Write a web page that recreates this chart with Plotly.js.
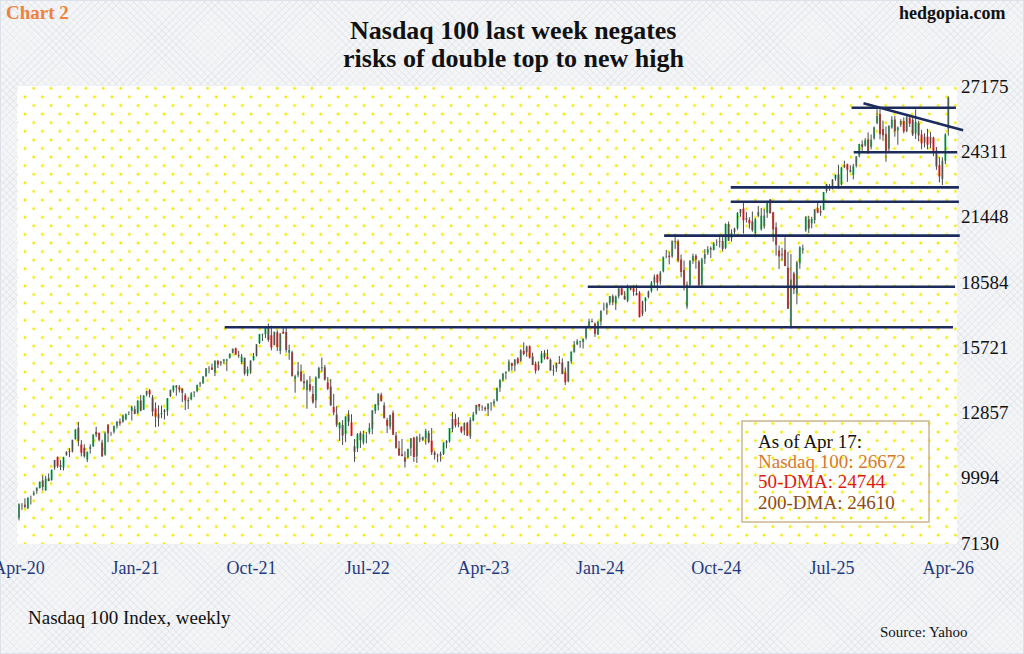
<!DOCTYPE html>
<html><head><meta charset="utf-8">
<script src="https://cdn.plot.ly/plotly-3.0.1.min.js"></script>
<style>
html,body{margin:0;padding:0;width:1024px;height:654px;overflow:hidden;}
body{background-color:#f4f5f7;background-image:repeating-linear-gradient(45deg,rgba(205,210,220,0.28) 0 1px,transparent 1px 5px),repeating-linear-gradient(-45deg,rgba(205,210,220,0.28) 0 1px,transparent 1px 5px);}
#frame{position:absolute;left:0;top:0;width:1022px;height:652px;border:1px solid #dde2ea;}
#dots{position:absolute;left:17px;top:86px;width:940px;height:458px;background-color:#ffffff;
background-image:radial-gradient(circle,#f4ea00 0,#f4ea00 1.2px,rgba(255,255,255,0) 1.7px),radial-gradient(circle,#f4ea00 0,#f4ea00 1.2px,rgba(255,255,255,0) 1.7px);
background-size:17.4px 17.2px,17.4px 17.2px;background-position:-0.7px 2.3px,8px -6.3px;}
#chart{position:absolute;left:0;top:0;width:1024px;height:654px;}
</style></head>
<body>
<div id="frame"></div>
<div id="dots"></div>
<div id="chart"></div>
<script>
// Weekly Nasdaq 100 candles, week ending 2020-04-17 ... 2026-04-17
var firstWeek = '2020-04-17';
var openVals = [
8240,8790,8810,8650,9150,9250,9420,9540,9870,9440,9970,9880,10430,10900,10540,10440,10980,11170,11140,11690,12180,11450,11310,10790,11250,11370,12010,11970,11540,11010,12330,11960,12010,12270,12460,12440,12560,12860,
12920,13000,12830,13380,12980,13640,13830,13510,13030,12590,12780,12880,12930,13580,13820,14030,13960,13910,13610,13350,13430,13730,13800,14090,14140,14450,14810,14830,14610,15120,15010,15110,15140,15260,15470,15670,15370,15070,15250,14560,14690,15150,15340,15900,16280,16290,16610,16240,15810,16370,15550,16400,
16380,15470,15500,14320,14500,14650,14230,13830,14090,13660,13390,14380,14800,14840,14170,13980,13100,12750,12150,12310,11910,12770,12430,11370,11270,11960,11540,11800,11990,12140,12930,13170,13630,13170,12520,12240,12840,11850,11280,11020,10880,10900,11290,11750,10930,11710,11650,11720,11960,11610,11100,10960,
10960,11050,11500,11590,12130,12570,12390,12230,12050,12400,11810,12500,12810,13230,13090,13060,13000,13230,13240,13370,13940,14290,14580,14680,15030,14920,15220,15100,15560,15500,15760,15310,14990,14740,15040,15470,15300,15170,14690,14800,15050,15050,14610,14230,15100,15510,15850,15960,15950,16130,16650,16870,
16760,16270,16840,17390,17450,17660,17950,17660,17960,18300,17960,17760,18360,18300,18090,18110,17180,17730,17920,18190,18540,18900,18600,19050,19690,19730,19710,20370,20370,19560,19100,17500,18450,19520,19730,19480,18480,19600,19860,20060,19980,20310,20380,20380,20080,21120,20510,20770,20940,21600,21800,21310,
21300,21230,20730,21480,20890,21050,21620,22200,21640,20980,19960,19800,19990,19200,16600,18950,18060,19400,19990,20850,21330,21160,21300,21810,21680,21740,22570,22790,22790,23110,23290,22860,23610,23740,23480,23270,23680,24130,24620,24560,24830,24510,24880,25550,25950,25290,25070,24420,25360,25710,25230,25470,
25640,25200,25780,25700,25100,25550,25050,24700,24950,24650,24900,24350,23700,23100,23900,25300];
var highVals = [
8870,8880,9090,9130,9210,9420,9560,9830,10090,10080,10180,10350,10770,10930,10760,10910,11150,11290,11660,12120,12440,11640,11460,11150,11460,11900,12230,11970,11660,12020,12330,12010,12280,12470,12590,12760,12800,12900,
13160,13150,13400,13620,13610,13810,13880,13620,13300,13170,13160,13010,13490,13850,14040,14060,14060,13910,13700,13520,13750,13770,14070,14200,14440,14800,14890,15000,15130,15150,15120,15200,15210,15440,15660,15700,15560,15420,15260,14870,15140,15470,15850,16300,16320,16600,16760,16660,16400,16460,16330,16590,
16580,15830,15560,14510,15070,14960,14550,14300,14450,14020,14440,14860,15260,14940,14410,14320,13670,13130,12430,12520,12690,12950,12780,11690,11950,12030,12050,12000,12390,12950,13230,13690,13720,13300,12620,12760,12940,12000,11610,11690,11150,11260,11730,11790,11830,11920,11800,12140,12060,12170,11180,11050,
11140,11550,11640,12170,12880,12800,12650,12250,12420,12440,12640,12880,13190,13230,13170,13120,13250,13310,13440,13950,14300,14590,14660,15180,15040,15190,15280,15630,15930,15790,15800,15480,15090,15100,15550,15590,15620,15220,14940,15040,15330,15230,14830,15100,15530,15990,16070,16000,16110,16660,16970,16970,
16800,16870,17340,17670,17690,17960,18040,17990,18300,18420,18180,18460,18420,18430,18460,18180,17760,17910,18200,18620,18910,18920,19060,19700,19980,19910,20390,20690,20440,19780,19520,18600,19540,19820,19800,19540,19640,20020,20150,20140,20330,20450,20550,20600,21150,21230,20890,20960,21640,21780,22130,21640,
21420,21670,21380,21910,21830,21780,22140,22220,21650,21190,20180,20080,20540,19900,19810,19030,19500,20150,20220,21470,21480,21440,21780,22040,21930,22530,22880,22870,23090,23290,23720,23620,23900,23770,23700,23760,24100,24640,24790,24890,25140,25050,25400,26180,26210,25660,25400,25450,25850,25860,25400,25720,
25800,25950,25900,25780,26150,25650,25250,25100,25300,25150,24950,24500,24050,24050,25100,26720];
var lowVals = [
8120,8580,8660,8620,8820,9200,9290,9520,9430,9420,9840,9870,10340,10420,10330,10310,10960,10900,11100,11660,11380,10930,10870,10680,11050,11340,11770,11590,10900,10960,11550,11830,11930,12150,12270,12410,12510,12740,
12500,12780,12790,12910,12970,13560,13510,12690,12210,12240,12610,12550,12710,13530,13730,13590,13730,13310,12960,13010,13390,13530,13740,13970,14110,14410,14570,14720,14450,14800,14900,14990,14670,15220,15450,15390,15250,14980,14480,14450,14550,15130,15310,15860,15990,16120,15960,15580,15800,15550,15410,16300,
15480,15170,14440,13720,14400,14200,13880,13020,13760,13240,13050,14330,14650,14260,13840,13140,12730,12220,11610,11430,11550,12260,11820,10690,11120,11300,11450,11500,11900,11900,12800,12950,13330,12600,11950,12110,11870,11270,10960,10930,10440,10840,10950,10690,10640,11550,11600,11440,11500,10990,10790,10670,
10700,10990,11280,11530,11990,12200,12210,11950,11860,11830,11700,12470,12750,12930,12930,12910,12700,12930,13130,13340,13760,14220,14300,14640,14690,14660,14960,15080,15360,15300,15220,14930,14560,14690,15010,15180,15180,14680,14470,14630,14990,14530,14060,14180,15000,15470,15810,15690,15660,16050,16580,16800,
16170,16250,16660,17320,17140,17560,17560,17350,17860,17990,17800,17690,18210,17970,17990,17020,17080,17280,17860,18110,18350,18200,18460,19000,19620,19350,19640,20030,19440,18790,18210,17400,18320,19380,19160,18420,18330,19370,19760,19630,19960,20160,20090,19920,20020,20380,20350,20680,20870,21440,20700,21190,
20920,20780,20540,21420,20830,20920,21390,21570,20350,19740,19150,19520,19270,17400,16540,18050,17600,19160,19820,20780,20730,20930,21140,21590,21480,21730,22490,22580,22640,23020,22670,22810,23580,22970,23380,23080,23600,24040,24330,24520,24200,24400,24820,25500,24830,24770,23850,24300,25300,24950,24600,25380,
25100,25150,25380,24980,24850,24750,24400,24480,24400,24450,24100,23500,22950,22830,23750,25000];
var closeVals = [
8830,8780,8720,9120,9150,9320,9560,9820,9590,9950,9850,10340,10770,10500,10460,10900,11130,11130,11660,12110,11620,11090,10940,11120,11350,11890,11880,11660,10930,11940,11940,11950,12260,12460,12380,12720,12800,12890,
13100,12800,13370,12930,13600,13800,13650,12900,12670,12800,12830,12950,13480,13850,14040,13950,13860,13720,13380,13400,13690,13770,14070,14140,14440,14800,14800,14730,15130,14960,15080,15180,15180,15440,15650,15390,15330,15310,14570,14750,15140,15330,15850,16300,16260,16570,16030,15710,16400,15730,16330,16320,
15600,15600,14440,14440,14650,14250,14140,14250,13840,13300,14400,14810,14840,14290,13900,13170,12850,12320,12400,11840,12680,12450,11830,11130,11900,11640,11900,11810,12170,12950,13210,13690,13360,12600,12270,12740,11880,11310,10970,10950,10690,11260,11730,10900,11780,11680,11780,12050,11560,11100,10990,10940,
11040,11540,11620,12170,12570,12300,12360,12010,12390,11830,12520,12770,13180,13120,13080,13000,13250,13240,13340,13930,14300,14550,14640,15080,14890,15180,15030,15570,15420,15750,15270,14940,14690,14940,15430,15270,15200,14700,14720,15020,14990,14540,14180,15100,15530,15840,15980,15990,16080,16620,16860,16830,
16310,16830,17310,17420,17640,17960,17690,17940,18300,18020,17810,18340,18250,18150,18000,17040,17720,17890,18160,18550,18810,18540,19000,19660,19700,19680,20390,20330,19520,19020,18440,18460,19510,19720,19570,18420,19580,19800,20000,20000,20270,20320,20350,20030,21120,20390,20740,20930,21620,21780,21290,21390,
21150,20850,21330,21650,21480,21490,22100,21600,20880,20200,19700,19750,19280,17400,18690,18260,19430,20100,20060,21430,20920,21340,21760,21630,21630,22530,22870,22780,23070,23270,22760,23600,23710,23500,23420,23650,24090,24630,24500,24790,24220,24820,25360,25860,25060,25010,24240,25430,25690,25200,25350,25640,
25180,25800,25520,25050,25600,25000,24650,24950,24600,24950,24300,23650,23200,23900,25050,26672];

// Axis ticks
var yTicks = [7130, 9994, 12857, 15721, 18584, 21448, 24311, 27175];
var xTickDates = ['2020-04-17','2021-01-17','2021-10-17','2022-07-17','2023-04-17','2024-01-17','2024-10-17','2025-07-17','2026-04-17'];
var xTickLabels = ['Apr-20','Jan-21','Oct-21','Jul-22','Apr-23','Jan-24','Oct-24','Jul-25','Apr-26'];

// Support / resistance levels drawn on the chart
var levelValues = [26220, 24270, 22730, 22100, 20610, 18370, 16590];
var levelStarts = ['2025-09-01','2025-09-06','2024-11-20','2024-11-20','2024-06-16','2023-12-19','2021-08-15'];
var levelEnds   = ['2026-05-05','2026-05-08','2026-05-12','2026-05-12','2026-05-14','2026-05-03','2026-04-28'];
var trendDates  = ['2025-09-29','2026-05-22'];
var trendValues = [26420, 25230];

// Info box
var infoLines  = ['As of Apr 17:', 'Nasdaq 100: 26672', '50-DMA: 24744', '200-DMA: 24610'];
var infoColors = ['#111111', '#d8782f', '#dd1a1a', '#8c4a1e'];

var weekDates = closeVals.map(function(_, i){
  return new Date(Date.UTC(2020,3,17) + i*7*86400000).toISOString().slice(0,10);
});

var L = 17, T = 86, PW = 947, PH = 457;
function px(xp){ return (xp - L)/PW; }
function py(yp){ return (T + PH - yp)/PH; }
var serif = 'Liberation Serif, Times New Roman, serif';

var traces = [
 {type:'ohlc', x:weekDates, open:openVals, high:highVals, low:lowVals, close:closeVals,
  tickwidth:0, hoverinfo:'skip',
  increasing:{line:{color:'#4a4a4a', width:1}}, decreasing:{line:{color:'#4a4a4a', width:1}}},
 {type:'candlestick', x:weekDates, open:openVals, high:highVals, low:lowVals, close:closeVals,
  whiskerwidth:0, hoverinfo:'skip',
  increasing:{line:{color:'rgba(0,0,0,0)', width:0}, fillcolor:'#3fc474'},
  decreasing:{line:{color:'rgba(0,0,0,0)', width:0}, fillcolor:'#f5383a'}}
];

var shapes = [];
levelValues.forEach(function(v, i){
  shapes.push({type:'line', xref:'x', yref:'y', x0:levelStarts[i], x1:levelEnds[i], y0:v, y1:v,
    line:{color:'#1b2b5e', width:2.6}});
});
shapes.push({type:'line', xref:'x', yref:'y', x0:trendDates[0], x1:trendDates[1], y0:trendValues[0], y1:trendValues[1],
  line:{color:'#1b2b5e', width:2.6}});
shapes.push({type:'rect', xref:'paper', yref:'paper', x0:px(742), x1:px(929), y0:py(522), y1:py(421),
  line:{color:'#ccb78d', width:1.5}, fillcolor:'rgba(0,0,0,0)'});

var ann = [];
function addText(text, xp, yp, size, color, bold, anchor){
  ann.push({text: bold ? '<b>'+text+'</b>' : text, xref:'paper', yref:'paper', x:px(xp), y:py(yp),
    xanchor:anchor, yanchor:'middle', showarrow:false,
    font:{family:serif, size:size, color:color}});
}
addText('Chart 2', 4, 13, 19, '#f0803a', true, 'left');
addText('hedgopia.com', 1008, 13, 18, '#111111', true, 'right');
addText('Nasdaq 100 last week negates', 513, 30, 26, '#111111', true, 'center');
addText('risks of double top to new high', 513, 58, 26, '#111111', true, 'center');
addText('Nasdaq 100 Index, weekly', 26, 617, 19, '#111111', false, 'left');
addText('Source: Yahoo', 878, 632, 15, '#111111', false, 'left');
var infoY = [441, 461, 481, 502];
infoLines.forEach(function(t, i){ addText(t, 756, infoY[i], 19, infoColors[i], false, 'left'); });

var layout = {
  width:1024, height:654,
  margin:{l:L, r:1024-L-PW, t:T, b:654-T-PH, pad:0},
  paper_bgcolor:'rgba(0,0,0,0)', plot_bgcolor:'rgba(0,0,0,0)',
  showlegend:false, hovermode:false, boxgap:0,
  xaxis:{type:'date', range:['2020-04-12 08:00','2026-05-24'], tickvals:xTickDates, ticktext:xTickLabels,
    tickfont:{family:serif, size:18, color:'#1f3a80'}, showgrid:false, zeroline:false, showline:false,
    ticks:'', ticklabelstandoff:12, ticklabeloverflow:'allow', rangeslider:{visible:false}},
  yaxis:{side:'right', range:[7130, 27175], tickvals:yTicks, ticktext:yTicks.map(String),
    tickfont:{family:serif, size:19, color:'#111111'}, showgrid:false, zeroline:false, showline:false,
    ticks:'', ticklabelstandoff:-4},
  shapes:shapes, annotations:ann
};
Plotly.newPlot('chart', traces, layout, {staticPlot:true, displayModeBar:false});
</script>
</body></html>
